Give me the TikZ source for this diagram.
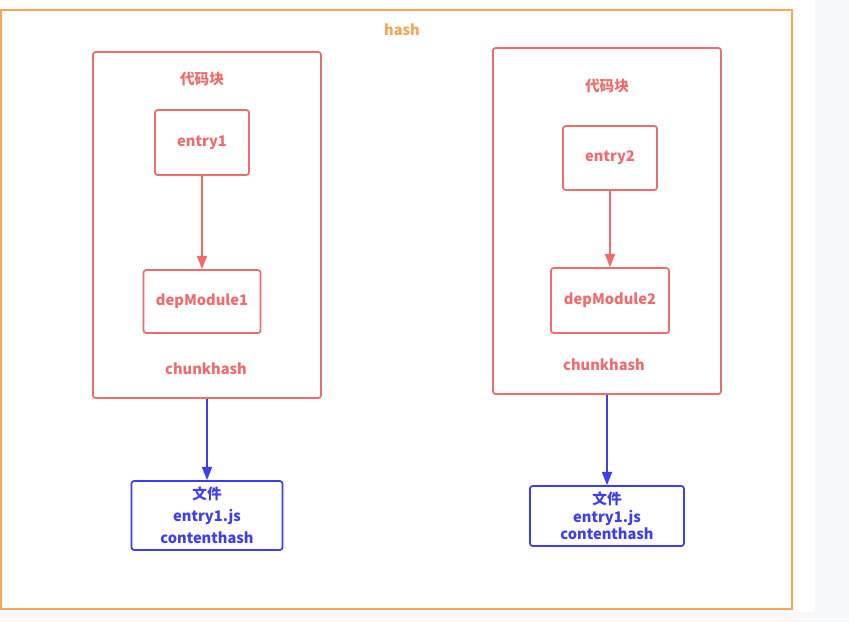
\documentclass[tikz,border=0pt]{standalone}
\usepackage{fontspec}
\setmainfont{Noto Sans CJK SC}
\usetikzlibrary{arrows.meta}
\definecolor{cred}{HTML}{F26B6B}
\definecolor{corange}{HTML}{F7A556}
\definecolor{cblue}{HTML}{3D3DF2}
\definecolor{cgray}{HTML}{F7F8FA}
\tikzset{
  box/.style={draw, line width=1.3pt, rounded corners=2pt, inner sep=0pt, align=center, font=\bfseries\fontsize{11}{14}\selectfont},
  redbox/.style={box, draw=cred, text=cred},
  bluebox/.style={box, draw=cblue, text=cblue},
  lbl/.style={inner sep=0pt, font=\bfseries\fontsize{11}{14}\selectfont},
  redarrow/.style={draw=cred, line width=1.4pt, -{Triangle[width=7.5pt,length=10pt]}, fill=cred},
  bluearrow/.style={draw=cblue, line width=1.4pt, -{Triangle[width=7.5pt,length=10pt]}, fill=cblue},
}
\begin{document}
\begin{tikzpicture}[x=0.75pt,y=-0.75pt]
\useasboundingbox (0,0) rectangle (849,622);
\fill[white] (0,0) rectangle (849,622);
\fill[cgray] (815,0) rectangle (849,622);
\fill[cgray] (0,612) rectangle (849,622);
% outer frame
\node[draw=corange, line width=1.3pt, minimum width=593.25pt, minimum height=449.25pt, inner sep=0pt] (outer) at (396.5,309.5) {};
\node[lbl, text=corange] (hash) at (402,30) {hash};
% left chunk
\node[redbox, minimum width=171pt, minimum height=259.5pt] (lbig) at (207,225) {};
\node[lbl, text=cred] (lcode) at (202,79) {代码块};
\node[redbox, minimum width=70.5pt, minimum height=48.75pt] (entry1) at (202,142.5) {entry1};
\node[redbox, minimum width=87.75pt, minimum height=47.25pt] (dep1) at (202,301.5) {depModule1};
\node[lbl, text=cred] (lchunk) at (206,369) {chunkhash};
\node[bluebox, minimum width=113.25pt, minimum height=51.75pt, font=\bfseries\fontsize{11}{16.5}\selectfont] (lfile) at (207,515.5) {文件\\entry1.js\\contenthash};
% right chunk
\node[redbox, minimum width=171pt, minimum height=259.5pt] (rbig) at (607,221) {};
\node[lbl, text=cred] (rcode) at (607,86) {代码块};
\node[redbox, minimum width=70.5pt, minimum height=48pt] (entry2) at (610,158) {entry2};
\node[redbox, minimum width=88.5pt, minimum height=48.75pt] (dep2) at (610,300.5) {depModule2};
\node[lbl, text=cred] (rchunk) at (604,365) {chunkhash};
\node[bluebox, minimum width=115.5pt, minimum height=45pt, font=\bfseries\fontsize{11}{13}\selectfont] (rfile) at (607,516) {文件\\entry1.js\\contenthash};
% arrows
\draw[redarrow] (entry1) -- (dep1);
\draw[redarrow] (entry2) -- (dep2);
\draw[bluearrow] (lbig) -- (lfile);
\draw[bluearrow] (rbig) -- (rfile);
\end{tikzpicture}
\end{document}
